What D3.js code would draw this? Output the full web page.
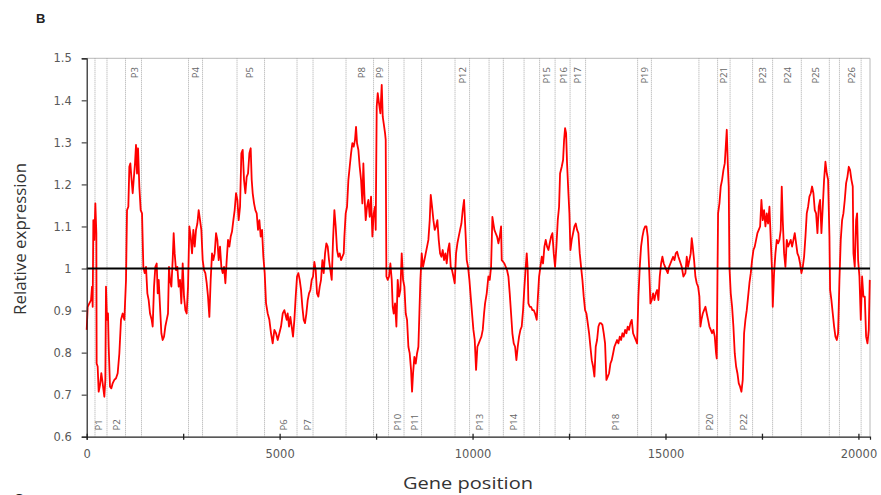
<!DOCTYPE html>
<html><head><meta charset="utf-8">
<script src="https://cdn.jsdelivr.net/npm/d3@7"></script>
<style>body{margin:0;background:#fff}</style>
</head><body><svg id="c" width="881" height="495"></svg>
<script>
// Gene position vs relative expression (sliding window profile)
const expression = [
[0,0.854],[25,0.909],[68,0.917],[112,0.925],[138,0.957],[155,0.909],[172,1.115],[198,1.068],[224,1.155],[250,1.084],
[258,0.774],[284,0.767],[310,0.707],[345,0.723],[379,0.751],[414,0.727],[457,0.695],[483,0.735],[500,0.957],[526,0.878],
[552,0.893],[570,0.814],[604,0.719],[639,0.715],[673,0.727],[716,0.735],[760,0.739],[803,0.751],[846,0.798],[889,0.878],
[932,0.893],[976,0.878],[1019,0.973],[1045,1.139],[1079,1.147],[1105,1.242],[1131,1.250],[1157,1.218],[1192,1.179],[1218,1.211],
[1252,1.250],[1278,1.294],[1304,1.226],[1330,1.286],[1364,1.195],[1399,1.139],[1434,1.131],[1468,1.004],[1503,0.989],[1537,1.004],
[1572,0.941],[1606,0.925],[1641,0.893],[1684,0.878],[1710,0.862],[1745,0.957],[1779,1.004],[1814,1.012],[1840,0.941],[1866,0.973],
[1900,0.909],[1935,0.846],[1969,0.830],[2004,0.838],[2038,0.862],[2073,0.878],[2107,0.893],[2133,1.004],[2159,0.973],[2194,0.957],
[2228,1.020],[2254,1.084],[2280,1.036],[2315,0.996],[2349,1.004],[2384,0.957],[2418,0.973],[2453,0.917],[2488,1.012],[2522,0.933],
[2557,0.901],[2591,0.893],[2626,0.957],[2660,1.100],[2695,1.076],[2730,1.036],[2764,1.092],[2799,1.052],[2833,1.092],[2868,1.107],
[2902,1.139],[2937,1.115],[2971,1.092],[3006,1.020],[3041,0.996],[3075,0.989],[3110,0.965],[3144,0.933],[3179,0.885],[3213,0.973],
[3248,1.036],[3282,1.020],[3317,1.036],[3352,1.084],[3386,1.068],[3421,1.020],[3455,1.052],[3490,1.004],[3524,0.989],[3559,1.004],
[3594,0.965],[3628,1.020],[3663,1.068],[3697,1.052],[3732,1.076],[3766,1.088],[3801,1.115],[3835,1.139],[3870,1.179],[3905,1.163],
[3939,1.115],[3974,1.147],[4008,1.274],[4043,1.282],[4077,1.211],[4112,1.179],[4146,1.218],[4181,1.226],[4216,1.274],[4250,1.286],
[4276,1.211],[4302,1.179],[4337,1.155],[4371,1.139],[4406,1.131],[4440,1.092],[4475,1.115],[4509,1.076],[4544,1.092],[4578,1.028],
[4613,0.989],[4648,0.917],[4691,0.893],[4734,0.878],[4777,0.846],[4820,0.822],[4864,0.854],[4907,0.846],[4950,0.830],[4993,0.846],
[5036,0.862],[5080,0.893],[5123,0.901],
[5183,0.878],[5209,0.893],[5244,0.862],[5278,0.885],[5313,0.862],[5347,0.838],[5382,0.878],[5416,0.933],[5451,0.981],[5486,0.989],
[5520,0.973],[5555,0.949],[5589,0.909],[5624,0.878],[5658,0.870],[5693,0.893],[5728,0.925],[5762,0.941],[5797,0.949],[5831,0.973],
[5866,0.981],[5900,1.016],[5935,0.996],[5969,0.941],[6004,0.933],[6039,0.957],[6073,0.973],[6108,1.020],[6142,0.989],[6177,1.036],
[6211,1.060],[6246,1.052],[6280,1.020],[6315,0.996],[6350,0.973],[6384,1.068],[6419,1.139],[6453,1.100],[6488,1.044],[6522,1.028],
[6557,1.036],[6592,1.020],[6626,1.028],[6661,1.036],[6678,1.076],[6712,1.131],[6747,1.147],[6782,1.211],[6816,1.242],[6851,1.274],
[6885,1.298],[6920,1.290],[6954,1.306],[6980,1.337],[7006,1.298],[7041,1.282],[7075,1.242],[7110,1.211],[7144,1.155],[7170,1.250],
[7196,1.179],[7231,1.115],[7265,1.147],[7300,1.163],[7335,1.123],[7369,1.171],[7404,1.076],[7438,1.131],[7473,1.147],[7490,1.092],
[7516,1.385],[7542,1.417],[7576,1.393],[7611,1.369],[7646,1.437],[7672,1.361],[7697,1.345],[7732,1.322],[7749,1.306],[7767,0.981],
[7801,0.973],[7836,0.981],[7870,1.012],[7905,0.973],[7931,0.909],[7957,0.893],[7991,0.917],[8026,0.862],[8060,0.973],[8095,0.933],
[8129,0.949],[8164,1.036],[8199,0.973],[8233,0.957],[8268,0.893],[8302,0.878],[8337,0.814],[8371,0.798],[8406,0.759],[8432,0.707],
[8458,0.751],[8492,0.790],[8527,0.774],[8561,0.798],[8596,0.814],[8622,0.893],[8648,0.973],[8682,1.036],[8717,1.004],[8752,1.020],
[8786,1.036],[8821,1.052],[8855,1.068],[8890,1.115],[8916,1.175],[8950,1.147],[8985,1.115],[9019,1.092],[9054,1.100],[9088,1.115],
[9123,1.068],[9158,1.036],[9192,1.028],[9227,1.044],[9261,1.020],[9296,1.036],[9330,1.012],[9365,1.044],[9400,1.060],[9434,1.004],
[9469,0.996],[9503,0.981],[9538,0.965],[9572,1.036],[9607,1.060],[9641,1.076],[9676,1.092],[9711,1.107],[9745,1.139],[9780,1.163],
[9814,1.092],[9849,1.020],[9883,1.004],[9918,0.973],[9952,0.933],[9987,0.893],[10022,0.854],[10056,0.830],[10091,0.759],[10125,0.814],
[10160,0.822],[10194,0.830],[10229,0.838],[10264,0.854],[10298,0.893],
[10324,0.917],[10367,0.941],[10410,0.981],[10445,0.973],[10480,1.004],[10514,1.123],[10540,1.107],[10566,1.092],[10600,1.084],[10635,1.076],
[10670,1.060],[10704,1.076],[10739,1.100],[10756,1.020],[10791,1.016],[10825,1.012],[10860,1.004],[10894,0.996],[10929,0.981],[10963,0.941],
[10998,0.893],[11032,0.846],[11067,0.822],[11102,0.814],[11136,0.782],[11171,0.814],[11205,0.838],[11240,0.854],[11274,0.862],[11309,0.901],
[11344,0.957],[11378,1.004],[11404,1.036],[11430,0.996],[11447,0.917],[11482,0.909],[11516,0.909],[11551,0.901],[11585,0.901],[11620,0.893],
[11663,0.878],[11689,0.925],[11724,0.981],[11758,1.004],[11793,1.028],[11827,1.012],[11862,1.052],[11896,1.068],[11931,1.052],[11966,1.044],
[12000,1.060],[12035,1.076],[12069,1.084],[12104,1.036],[12138,1.004],[12173,1.052],[12208,1.115],[12242,1.147],[12268,1.226],[12311,1.242],
[12346,1.258],[12372,1.306],[12398,1.334],[12424,1.322],[12449,1.250],[12484,1.179],[12510,1.131],[12536,1.044],[12570,1.068],[12605,1.084],
[12640,1.100],[12674,1.107],[12709,1.092],[12743,1.084],[12778,1.036],[12812,1.004],[12847,0.973],[12881,0.933],[12916,0.901],[12951,0.893],
[12985,0.870],[13020,0.846],[13054,0.814],[13089,0.782],[13123,0.767],[13158,0.743],[13192,0.814],[13227,0.830],[13262,0.862],[13296,0.870],
[13331,0.870],[13365,0.866],[13400,0.846],[13434,0.822],[13469,0.735],[13504,0.743],[13538,0.751],[13573,0.774],[13607,0.782],[13642,0.798],
[13676,0.814],[13711,0.822],[13745,0.830],[13780,0.822],[13815,0.838],[13849,0.830],[13884,0.846],[13918,0.838],[13953,0.854],[13987,0.846],
[14022,0.862],[14056,0.854],[14091,0.870],[14126,0.878],[14160,0.846],[14195,0.838],[14229,0.830],[14264,0.822],[14298,0.933],[14333,1.004],
[14367,1.052],[14402,1.076],[14437,1.092],[14471,1.100],[14506,1.100],[14540,1.076],[14575,1.004],[14609,0.917],[14644,0.925],[14679,0.941],
[14713,0.925],[14748,0.941],[14782,0.949],[14817,0.925],[14851,0.981],[14886,1.012],[14920,1.028],[14955,1.012],[14990,1.004],[15024,0.996],
[15059,0.989],[15093,1.004],[15128,1.012],[15162,1.020],[15197,1.028],[15232,1.020],[15266,1.036],[15301,1.040],[15335,1.028],
[15421,1.004],[15464,0.981],[15516,0.989],[15551,1.028],[15585,1.004],[15620,1.020],[15654,1.036],[15680,1.072],[15706,1.052],[15741,1.020],
[15775,0.981],[15810,0.965],[15845,0.957],[15879,0.933],[15905,0.862],[15931,0.878],[15966,0.893],[16000,0.901],[16035,0.909],[16069,0.893],
[16104,0.878],[16138,0.862],[16173,0.854],[16207,0.846],[16242,0.854],[16277,0.838],[16311,0.798],[16328,0.786],[16346,0.973],[16363,1.131],
[16398,1.155],[16432,1.195],[16467,1.211],[16501,1.234],[16536,1.250],[16562,1.290],[16588,1.330],[16614,1.250],[16639,1.195],[16657,1.004],
[16691,0.941],[16726,0.909],[16760,0.862],[16795,0.798],[16830,0.767],[16864,0.751],[16899,0.727],[16933,0.719],[16968,0.707],[17002,0.735],
[17037,0.846],[17071,0.878],[17106,0.901],[17141,0.933],[17175,0.965],[17210,0.989],[17244,1.020],[17279,1.044],[17313,1.052],[17348,1.068],
[17382,1.084],[17417,1.092],[17452,1.100],[17486,1.163],[17521,1.115],[17555,1.139],[17590,1.100],[17624,1.131],[17659,1.107],[17694,1.147],
[17728,1.068],[17763,0.989],[17780,0.909],[17814,0.989],[17849,1.036],[17884,1.068],[17918,1.060],[17953,1.068],[17987,1.092],[18013,1.195],
[18039,1.115],[18074,1.036],[18108,1.004],[18143,1.068],[18177,1.052],[18212,1.060],[18246,1.068],[18281,1.052],[18316,1.068],[18350,1.084],
[18385,1.060],[18419,1.036],[18454,1.028],[18488,1.012],[18523,0.989],[18558,1.004],[18592,1.028],[18627,1.076],[18661,1.131],[18696,1.147],
[18730,1.171],[18765,1.179],[18799,1.195],[18834,1.179],[18869,1.139],[18903,1.131],[18938,1.084],[18972,1.147],[19007,1.163],[19041,1.084],
[19076,1.147],[19110,1.211],[19145,1.254],[19180,1.226],[19214,1.211],[19249,1.076],[19266,0.949],[19300,0.925],[19335,0.893],[19370,0.862],
[19404,0.838],[19439,0.830],[19473,0.846],[19508,0.973],[19542,1.068],[19577,1.115],[19611,1.131],[19646,1.163],[19681,1.203],[19715,1.218],
[19750,1.242],[19784,1.234],[19819,1.211],[19853,1.195],[19871,1.036],[19905,1.004],[19940,1.115],[19966,1.131],[19992,1.020],[20026,0.981],
[20061,0.878],[20095,0.981],[20130,0.933],[20165,0.933],[20199,0.838],[20234,0.822],[20268,0.854],[20294,0.973]
];

const yTickValues = [0.6,0.7,0.8,0.9,1.0,1.1,1.2,1.3,1.4,1.5];
const xTickValues = [0,2500,5000,7500,10000,12500,15000,17500,20000];
const xLabelValues = [0,5000,10000,15000,20000];
const boundaries = [215,526,1006,1420,2639,3002,3896,4609,5451,5866,6721,7434,7823,8224,8678,9546,9922,10428,10798,11335,11737,12139,12527,12929,14277,14635,15866,16350,16674,17257,17776,18520,19246,19508,20070];
const regionNames = ["P1","P2","P3","P4","P5","P6","P7","P8","P9","P10","P11","P12","P13","P14","P15","P16","P17","P18","P19","P20","P21","P22","P23","P24","P25","P26"];
const regionCenters = [319,778,1252,2833,4233,5096,5736,7128,7603,8061,8491,9746,10194,11057,11923,12354,12722,13712,14471,16138,16501,17019,17522,18160,18904,19829];
const regionSide = ["b","b","t","t","t","b","b","t","t","b","b","t","b","b","t","t","t","b","t","b","t","b","t","t","t","t"];
const baseline = 1.0;

const svg = d3.select("#c");
svg.append("rect").attr("width",881).attr("height",495).attr("fill","#fff");
const L = 86.7, R = 870, T = 58.3, B = 436.7;
const x = d3.scaleLinear().domain([0,20300]).range([L,R]);
const y = d3.scaleLinear().domain([0.6,1.5]).range([B,T]);

// panel letter
svg.append("text").attr("x",36).attr("y",23).text("B")
  .attr("font-family","Liberation Sans, Arial, sans-serif").attr("font-weight","bold").attr("font-size",13).attr("fill","#222");
svg.append("text").attr("x",14).attr("y",504).text("C")
  .attr("font-family","Liberation Sans, Arial, sans-serif").attr("font-weight","bold").attr("font-size",14).attr("fill","#222");

// plot frame (top & right)
svg.append("path").attr("d",`M${L},${T}H${R}V${B}`).attr("fill","none").attr("stroke","#b8b8b8").attr("stroke-width",1);

// boundary lines
svg.append("g").selectAll("line").data(boundaries).join("line")
  .attr("x1",d=>x(d)).attr("x2",d=>x(d)).attr("y1",T).attr("y2",B)
  .attr("stroke","#a0a0a0").attr("stroke-width",0.9).attr("stroke-dasharray","1,1");

// region labels
const lab = svg.append("g").attr("font-family","Open Sans, sans-serif").attr("font-size",9.5).attr("fill","#666");
regionNames.forEach((n,i)=>{
  const cx = x(regionCenters[i]);
  const top = regionSide[i]==="t";
  const yy = top ? 67 : 430.5;
  lab.append("text").attr("transform",`translate(${cx},${yy}) rotate(-90)`)
    .attr("text-anchor", top ? "end" : "start").attr("dy","0.35em").text(n);
});

// data line
const line = d3.line().x(d=>x(d[0])).y(d=>y(d[1]));
svg.append("path").datum(expression).attr("d",line)
  .attr("fill","none").attr("stroke","#ff0000").attr("stroke-width",1.8).attr("stroke-linejoin","round");

// baseline at 1
svg.append("line").attr("x1",L).attr("x2",R).attr("y1",y(baseline)).attr("y2",y(baseline))
  .attr("stroke","#000").attr("stroke-width",2);

// y axis
const ya = svg.append("g").attr("transform",`translate(${L},0)`)
  .call(d3.axisLeft(y).tickValues(yTickValues).tickSize(5).tickPadding(10).tickFormat(d3.format("~g")));
ya.select(".domain").attr("stroke","#222").attr("stroke-width",1.2);
ya.selectAll(".tick line").attr("stroke","#222");
ya.selectAll("text").attr("font-family","DejaVu Sans, sans-serif").attr("font-size",11.5).attr("fill","#595959");

// x axis
const xa = svg.append("g").attr("transform",`translate(0,${B})`)
  .call(d3.axisBottom(x).tickValues(xTickValues).tickSizeOuter(0).tickSize(3)
    .tickFormat(d => xLabelValues.includes(d) ? String(d) : ""));
xa.select(".domain").attr("stroke","#222").attr("stroke-width",1.2);
xa.selectAll(".tick line").attr("stroke","#222").attr("y1",-3).attr("y2",3).attr("stroke-width",1.3);
xa.selectAll("text").attr("y",13).attr("font-family","DejaVu Sans, sans-serif").attr("font-size",11.5).attr("fill","#595959");

// titles
svg.append("text").attr("x",468).attr("y",489).attr("text-anchor","middle")
  .attr("font-family","Open Sans, sans-serif").attr("font-size",16).attr("fill","#333")
  .attr("textLength",130).attr("lengthAdjust","spacingAndGlyphs").text("Gene position");
svg.append("text").attr("transform","translate(26,239) rotate(-90)").attr("text-anchor","middle")
  .attr("font-family","Open Sans, sans-serif").attr("font-size",17).attr("fill","#333")
  .attr("textLength",152).attr("lengthAdjust","spacingAndGlyphs").text("Relative expression");
</script>
</body></html>
